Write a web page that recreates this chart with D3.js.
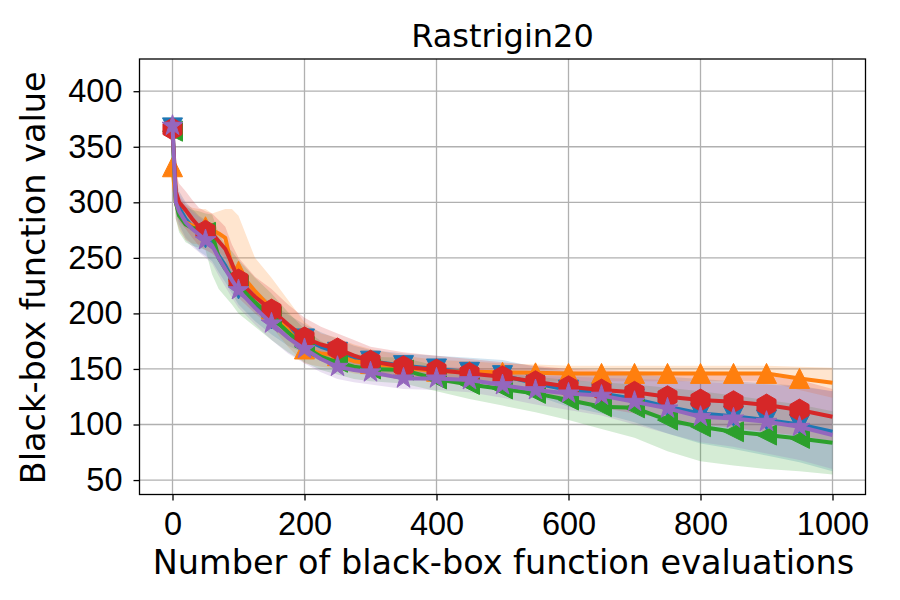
<!DOCTYPE html>
<html lang="en">
<head>
<meta charset="UTF-8">
<title>Rastrigin20</title>
<script src="https://d3js.org/d3.v7.min.js"></script>
<style>
    body { margin: 0; background: #fff; }
    svg { font-family: "DejaVu Sans", sans-serif; }
    .grid line { stroke: #b0b0b0; stroke-width: 1.3; }
    .axis path, .axis line { stroke: #000; stroke-width: 1.3; }
    .axis text { fill: #000; font-size: 32.5px; }
</style>
</head>
<body>
<svg width="900" height="600"></svg>

<script>
    // number of black-box evaluations at which values were read
    const evals = [0, 5, 10, 20, 30, 40, 50, 60, 70, 80, 90, 100, 125, 150, 175, 200, 225, 250, 275, 300,
                   350, 400, 450, 500, 550, 600, 650, 700, 750, 800, 850, 900, 950, 1000];

    const blueMean   = [367, 305, 295, 285, 278, 272, 268, 263, 252, 243, 232, 222, 207, 195, 185, 177, 170, 165, 160, 157,
                        153, 150, 147, 144, 137, 131, 128, 123, 116, 110, 107.5, 104, 100, 93.5];
    const blueLow    = [362, 290, 280, 268, 262, 256, 252, 247, 237, 228, 218, 208, 193, 181, 171, 164, 157, 153, 149, 147,
                        145, 143, 140, 135, 126, 116, 110, 102, 92, 83, 78, 72, 66, 58];
    const blueHigh   = [372, 320, 310, 300, 294, 288, 284, 279, 268, 258, 246, 236, 221, 209, 199, 190, 183, 177, 171, 167,
                        164, 162, 160, 158, 152, 148, 146, 145, 143, 141, 139, 137, 135, 130];

    const orangeMean = [332, 300, 290, 282, 279, 278, 278, 275, 272, 268, 242, 238, 220, 204, 185, 168, 164, 162, 157, 155,
                        151, 148, 147.5, 147, 146.5, 146, 146, 146, 146, 146, 146, 146, 141.5, 137.5];
    const orangeLow  = [327, 285, 275, 266, 263, 262, 262, 258, 255, 250, 226, 222, 205, 188, 170, 155, 152, 150, 146, 144,
                        141, 139, 139, 139, 139, 139, 139, 139, 139, 139, 139, 139, 131, 124];
    const orangeHigh = [337, 315, 305, 298, 295, 294, 294, 290, 292, 294, 294, 288, 250, 232, 212, 192, 182, 178, 172, 168,
                        162, 158, 157, 155, 154, 153, 153, 153, 153, 153, 153, 153, 152, 151];

    const greenMean  = [364, 300, 288, 280, 277, 276, 273, 272, 250, 240, 233, 225, 210, 197, 183, 170, 161, 156, 152, 150,
                        149, 141, 136, 132, 128, 122, 116, 115, 104, 98, 93.5, 90.5, 87.5, 83.5];
    const greenLow   = [359, 285, 273, 264, 261, 259, 257, 235, 222, 215, 208, 200, 188, 176, 165, 156, 149, 145, 141, 139,
                        137, 130, 123, 117, 111, 104, 96, 88, 76, 67, 63, 60, 58, 55];
    const greenHigh  = [369, 315, 303, 296, 293, 292, 290, 289, 272, 262, 256, 248, 232, 218, 201, 186, 175, 168, 164, 161,
                        160, 153, 149, 146, 143, 140, 138, 136, 133, 130, 126, 122, 118, 112];

    const redMean    = [366, 310, 300, 293, 285, 278, 274, 272, 265, 258, 245, 230, 215, 203, 190, 178, 172, 168, 162, 157,
                        152, 149, 146, 143, 138.5, 134, 131, 129, 125, 122, 120.5, 117.5, 113, 107];
    const redLow     = [361, 293, 283, 276, 268, 261, 257, 254, 248, 240, 228, 214, 200, 188, 176, 163, 159, 155, 150, 146,
                        142, 138, 135, 132, 127, 120, 115, 110, 105, 100, 97, 93, 90, 85];
    const redHigh    = [371, 327, 317, 310, 302, 295, 292, 290, 284, 278, 262, 250, 233, 222, 208, 196, 188, 182, 176, 170,
                        165, 162, 159, 156, 153, 150, 149, 148, 147, 146, 145, 144, 140, 132];

    const purpleMean = [369, 300, 292, 282, 276, 271, 266, 261, 250, 240, 230, 221, 205, 191, 178, 168, 159, 152, 149, 147,
                        141.5, 141.5, 140, 135.5, 131, 128, 126, 120.5, 114.5, 107, 105.5, 102.5, 98, 90.5];
    const purpleLow  = [364, 285, 277, 266, 260, 255, 250, 245, 234, 224, 214, 205, 190, 176, 164, 155, 147, 141, 138, 136,
                        132, 131, 129, 124, 118, 113, 108, 100, 92, 84, 80, 74, 68, 60];
    const purpleHigh = [374, 315, 307, 298, 292, 287, 282, 277, 266, 256, 246, 237, 221, 206, 192, 181, 171, 164, 160, 158,
                        152, 152, 151, 147, 144, 143, 142, 141, 140, 138, 137, 136, 134, 130];

    const xTicks = [0, 200, 400, 600, 800, 1000];
    const yTicks = [50, 100, 150, 200, 250, 300, 350, 400];
    const markEvery = 50;

    // marker shapes (matplotlib style, unit half-size s)
    const markers = {
        triDown: s => `M0,${s}L${-s},${-s}L${s},${-s}Z`,
        triUp:   s => `M0,${-s}L${-s},${s}L${s},${s}Z`,
        triLeft: s => `M${-s},0L${s},${-s}L${s},${s}Z`,
        hexagon: s => d3.range(6).map(i => {
                     const a = -Math.PI / 2 + i * Math.PI / 3;
                     return (i ? "L" : "M") + (s * Math.cos(a)) + "," + (s * Math.sin(a));
                 }).join("") + "Z",
        star:    s => d3.range(10).map(i => {
                     const a = -Math.PI / 2 + i * Math.PI / 5;
                     const r = i % 2 ? s * 0.381966 : s;
                     return (i ? "L" : "M") + (r * Math.cos(a)) + "," + (r * Math.sin(a));
                 }).join("") + "Z"
    };

    const series = [
        {color: "#1f77b4", mean: blueMean,   low: blueLow,   high: blueHigh,   marker: markers.triDown, size: 10},
        {color: "#ff7f0e", mean: orangeMean, low: orangeLow, high: orangeHigh, marker: markers.triUp,   size: 10},
        {color: "#2ca02c", mean: greenMean,  low: greenLow,  high: greenHigh,  marker: markers.triLeft, size: 10},
        {color: "#d62728", mean: redMean,    low: redLow,    high: redHigh,    marker: markers.hexagon, size: 11},
        {color: "#9467bd", mean: purpleMean, low: purpleLow, high: purpleHigh, marker: markers.star,    size: 11}
    ];

    const svg = d3.select("svg");
    const plot = {left: 139.5, right: 865.5, top: 59, bottom: 494.5};

    const x = d3.scaleLinear().domain([-50, 1050]).range([plot.left, plot.right]);
    const y = d3.scaleLinear().domain([37, 429]).range([plot.bottom, plot.top]);

    // grid
    const grid = svg.append("g").attr("class", "grid");
    grid.selectAll(".gx").data(xTicks).enter().append("line")
        .attr("x1", d => x(d)).attr("x2", d => x(d))
        .attr("y1", plot.top).attr("y2", plot.bottom);
    grid.selectAll(".gy").data(yTicks).enter().append("line")
        .attr("x1", plot.left).attr("x2", plot.right)
        .attr("y1", d => y(d)).attr("y2", d => y(d));

    svg.append("defs").append("clipPath").attr("id", "clip")
        .append("rect")
        .attr("x", plot.left).attr("y", plot.top)
        .attr("width", plot.right - plot.left).attr("height", plot.bottom - plot.top);

    const body = svg.append("g").attr("clip-path", "url(#clip)");

    const area = d3.area()
        .x((d, i) => x(evals[i]))
        .y0(d => y(d[0]))
        .y1(d => y(d[1]));

    const line = d3.line()
        .x((d, i) => x(evals[i]))
        .y(d => y(d));

    series.forEach(s => {
        body.append("path")
            .datum(s.low.map((v, i) => [v, s.high[i]]))
            .attr("d", area)
            .attr("fill", s.color)
            .attr("fill-opacity", 0.2);
    });

    series.forEach(s => {
        body.append("path")
            .datum(s.mean)
            .attr("d", line)
            .attr("fill", "none")
            .attr("stroke", s.color)
            .attr("stroke-width", 4)
            .attr("stroke-linejoin", "round");

        const marks = evals.map((e, i) => [e, s.mean[i]]).filter(d => d[0] % markEvery === 0 && d[0] < 1000);
        body.selectAll(null).data(marks).enter().append("path")
            .attr("transform", d => `translate(${x(d[0])},${y(d[1])})`)
            .attr("d", s.marker(s.size))
            .attr("fill", s.color)
            .attr("stroke", s.color)
            .attr("stroke-width", 1);
    });

    // axes
    svg.append("g").attr("class", "axis")
        .attr("transform", `translate(0,${plot.bottom})`)
        .call(d3.axisBottom(x).tickValues(xTicks).tickFormat(d3.format("d"))
              .tickSize(6).tickPadding(11).tickSizeOuter(0))
        .call(g => g.select(".domain").remove());
    svg.append("g").attr("class", "axis")
        .attr("transform", `translate(${plot.left},0)`)
        .call(d3.axisLeft(y).tickValues(yTicks).tickFormat(d3.format("d"))
              .tickSize(6).tickPadding(11).tickSizeOuter(0))
        .call(g => g.select(".domain").remove());

    svg.append("rect")
        .attr("x", plot.left).attr("y", plot.top)
        .attr("width", plot.right - plot.left).attr("height", plot.bottom - plot.top)
        .attr("fill", "none").attr("stroke", "#000").attr("stroke-width", 1.3);

    svg.append("text")
        .attr("x", (plot.left + plot.right) / 2).attr("y", 46.5)
        .attr("text-anchor", "middle").attr("font-size", 32)
        .text("Rastrigin20");

    svg.append("text")
        .attr("x", (plot.left + plot.right) / 2 + 1).attr("y", 574)
        .attr("text-anchor", "middle").attr("font-size", 33.5)
        .text("Number of black-box function evaluations");

    svg.append("text")
        .attr("transform", `translate(45,${(plot.top + plot.bottom) / 2 + 1}) rotate(-90)`)
        .attr("text-anchor", "middle").attr("font-size", 33.5)
        .text("Black-box function value");
</script>
</body>
</html>
